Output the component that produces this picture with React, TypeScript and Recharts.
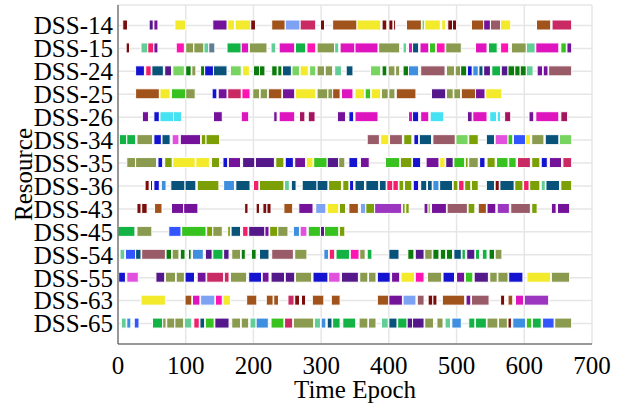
import React from 'react';
import { BarChart, Bar, Cell, XAxis, YAxis, CartesianGrid } from 'recharts';

// [start, end, task type]
type Seg = [number, number, string];

const resources = ['DSS-14', 'DSS-15', 'DSS-24', 'DSS-25', 'DSS-26', 'DSS-34', 'DSS-35', 'DSS-36', 'DSS-43', 'DSS-45', 'DSS-54', 'DSS-55', 'DSS-63', 'DSS-65'];
const epochTicks = [0, 100, 200, 300, 400, 500, 600, 700];

const dss14: Seg[] = [[7, 14, 'A'], [46, 52, 'I'], [53, 59, 'P'], [84, 100, 'Y'], [140, 161, 'P'], [162, 172, 'Y'], [173, 196, 'Y'], [196, 203, 'A'], [227, 247, 'B'], [247, 269, 'L'], [269, 292, 'C'], [299, 305, 'A'], [317, 353, 'B'], [353, 388, 'Y'], [390, 397, 'A'], [400, 406, 'A'], [407, 410, 'A'], [426, 448, 'B'], [449, 453, 'H'], [453, 476, 'Y'], [478, 484, 'Y'], [487, 494, 'A'], [494, 500, 'A'], [522, 540, 'B'], [540, 550, 'P'], [550, 565, 'W'], [565, 580, 'Y'], [618, 639, 'B'], [641, 670, 'C']];
const dss15: Seg[] = [[12, 17, 'A'], [34, 44, 'N'], [44, 53, 'R'], [53, 59, 'P'], [86, 98, 'J'], [100, 112, 'O'], [112, 127, 'O'], [127, 134, 'N'], [134, 143, 'S'], [161, 182, 'G'], [182, 193, 'M'], [194, 220, 'O'], [226, 233, 'N'], [238, 261, 'M'], [262, 277, 'G'], [279, 292, 'J'], [294, 320, 'O'], [320, 326, 'N'], [328, 350, 'M'], [350, 384, 'M'], [385, 416, 'O'], [421, 426, 'N'], [429, 435, 'M'], [435, 444, 'T'], [446, 459, 'M'], [460, 469, 'E'], [470, 483, 'J'], [484, 507, 'O'], [528, 545, 'M'], [547, 560, 'G'], [565, 577, 'J'], [581, 603, 'O'], [603, 616, 'N'], [617, 651, 'M'], [654, 662, 'E'], [663, 670, 'P']];
const dss24: Seg[] = [[26, 39, 'U'], [41, 49, 'R'], [50, 67, 'T'], [69, 79, 'I'], [81, 98, 'H'], [100, 108, 'D'], [109, 115, 'O'], [122, 128, 'D'], [128, 141, 'U'], [141, 161, 'T'], [166, 182, 'H'], [184, 194, 'Y'], [200, 209, 'D'], [209, 217, 'D'], [227, 235, 'D'], [236, 242, 'D'], [243, 256, 'T'], [257, 268, 'H'], [269, 281, 'Y'], [283, 292, 'H'], [294, 305, 'O'], [306, 317, 'O'], [320, 330, 'N'], [337, 347, 'T'], [373, 388, 'H'], [390, 397, 'D'], [399, 409, 'O'], [410, 416, 'O'], [421, 429, 'D'], [429, 444, 'Z'], [447, 483, 'W'], [485, 497, 'O'], [498, 506, 'O'], [506, 515, 'D'], [516, 523, 'U'], [524, 532, 'Z'], [533, 539, 'T'], [540, 550, 'I'], [552, 565, 'G'], [566, 576, 'I'], [576, 586, 'D'], [586, 594, 'D'], [594, 603, 'D'], [603, 613, 'N'], [619, 627, 'P'], [628, 635, 'P'], [636, 670, 'W']];
const dss25: Seg[] = [[26, 61, 'B'], [62, 77, 'Y'], [79, 100, 'E'], [100, 114, 'O'], [139, 146, 'U'], [148, 161, 'P'], [162, 182, 'C'], [183, 195, 'J'], [199, 209, 'O'], [210, 221, 'O'], [222, 242, 'B'], [243, 261, 'P'], [262, 292, 'Y'], [294, 310, 'O'], [310, 317, 'O'], [317, 328, 'B'], [330, 347, 'M'], [350, 364, 'Y'], [365, 373, 'E'], [374, 388, 'Y'], [389, 399, 'O'], [400, 409, 'O'], [411, 440, 'B'], [463, 484, 'I'], [485, 495, 'O'], [496, 506, 'O'], [507, 528, 'B'], [528, 542, 'P'], [543, 567, 'Y']];
const dss26: Seg[] = [[36, 45, 'P'], [53, 61, 'U'], [62, 82, 'Q'], [82, 94, 'Q'], [141, 154, 'P'], [182, 193, 'M'], [230, 235, 'P'], [238, 261, 'M'], [268, 276, 'c'], [281, 291, 'c'], [324, 336, 'P'], [341, 348, 'U'], [350, 384, 'M'], [429, 435, 'M'], [435, 444, 'U'], [447, 459, 'M'], [461, 481, 'Q'], [516, 523, 'P'], [524, 545, 'M'], [549, 559, 'Q'], [560, 565, 'Q'], [571, 580, 'c'], [607, 614, 'P'], [617, 651, 'M'], [654, 664, 'c']];
const dss34: Seg[] = [[2, 13, 'G'], [13, 26, 'G'], [28, 51, 'O'], [53, 64, 'U'], [65, 77, 'T'], [80, 90, 'K'], [92, 122, 'P'], [123, 130, 'V'], [130, 150, 'V'], [368, 386, 'W'], [388, 400, 'Y'], [401, 420, 'W'], [422, 434, 'V'], [437, 444, 'U'], [445, 463, 'T'], [465, 498, 'W'], [499, 517, 'H'], [518, 532, 'V'], [544, 556, 'T'], [557, 576, 'K'], [576, 583, 'E'], [584, 602, 'X'], [602, 609, 'Y'], [611, 629, 'O'], [631, 651, 'T'], [652, 670, 'H']];
const dss35: Seg[] = [[13, 26, 'O'], [26, 57, 'O'], [59, 66, 'U'], [69, 80, 'V'], [81, 114, 'Y'], [115, 135, 'Y'], [138, 150, 'V'], [155, 162, 'U'], [163, 181, 'P'], [184, 202, 'I'], [203, 231, 'I'], [233, 245, 'V'], [247, 259, 'U'], [261, 277, 'P'], [278, 288, 'Y'], [289, 309, 'E'], [309, 326, 'I'], [326, 335, 'O'], [341, 354, 'U'], [358, 371, 'P'], [395, 416, 'E'], [417, 434, 'V'], [435, 447, 'U'], [455, 474, 'P'], [475, 483, 'Y'], [484, 495, 'I'], [496, 512, 'E'], [513, 517, 'V'], [518, 532, 'O'], [534, 542, 'U'], [545, 557, 'V'], [559, 576, 'E'], [577, 588, 'E'], [590, 609, 'C'], [611, 623, 'V'], [625, 634, 'U'], [637, 655, 'P'], [657, 670, 'C']];
const dss36: Seg[] = [[40, 46, 'A'], [48, 51, 'A'], [53, 61, 'U'], [64, 71, 'Z'], [78, 99, 'T'], [99, 115, 'T'], [117, 149, 'V'], [156, 172, 'Z'], [174, 195, 'T'], [200, 208, 'R'], [209, 245, 'V'], [246, 253, 'N'], [256, 263, 'T'], [272, 294, 'T'], [294, 310, 'T'], [311, 330, 'V'], [332, 341, 'V'], [342, 348, 'U'], [350, 364, 'T'], [366, 385, 'T'], [386, 396, 'T'], [397, 406, 'R'], [406, 414, 'R'], [415, 422, 'V'], [423, 434, 'V'], [436, 444, 'U'], [447, 456, 'T'], [457, 464, 'T'], [465, 474, 'Z'], [475, 494, 'T'], [495, 502, 'V'], [503, 511, 'R'], [512, 521, 'V'], [522, 532, 'V'], [544, 556, 'T'], [557, 563, 'A'], [564, 585, 'T'], [586, 598, 'V'], [599, 607, 'R'], [608, 623, 'V'], [625, 631, 'N'], [632, 652, 'T'], [654, 670, 'V']];
const dss43: Seg[] = [[28, 34, 'A'], [35, 43, 'A'], [54, 65, 'B'], [79, 97, 'P'], [97, 118, 'P'], [187, 192, 'A'], [204, 209, 'A'], [214, 220, 'A'], [220, 226, 'A'], [245, 258, 'B'], [267, 288, 'P'], [292, 307, 'L'], [309, 326, 'Y'], [327, 336, 'V'], [341, 355, 'B'], [358, 366, 'L'], [366, 379, 'V'], [379, 419, 'F'], [420, 424, 'V'], [425, 430, 'V'], [452, 458, 'P'], [458, 461, 'V'], [463, 485, 'P'], [486, 516, 'W'], [517, 527, 'V'], [532, 544, 'B'], [545, 558, 'P'], [560, 578, 'F'], [580, 609, 'W'], [611, 619, 'V'], [640, 647, 'P'], [649, 667, 'P']];
const dss45: Seg[] = [[0, 25, 'G'], [28, 50, 'O'], [75, 93, 'X'], [94, 130, 'E'], [131, 140, 'V'], [140, 154, 'O'], [162, 166, 'V'], [167, 181, 'T'], [184, 192, 'R'], [193, 217, 'I'], [217, 223, 'P'], [224, 236, 'V'], [236, 251, 'O'], [259, 268, 'Z'], [269, 279, 'K'], [281, 299, 'E'], [299, 305, 'I'], [305, 326, 'E'], [327, 335, 'V']];
const dss54: Seg[] = [[3, 10, 'N'], [11, 26, 'X'], [26, 34, 'T'], [35, 70, 'W'], [71, 79, 'D'], [80, 90, 'O'], [92, 99, 'D'], [104, 108, 'D'], [110, 126, 'Z'], [129, 139, 'I'], [140, 155, 'G'], [156, 164, 'I'], [168, 181, 'O'], [182, 188, 'D'], [197, 204, 'D'], [209, 223, 'T'], [227, 259, 'W'], [261, 279, 'O'], [304, 311, 'Z'], [312, 320, 'R'], [322, 342, 'G'], [343, 356, 'J'], [357, 365, 'O'], [368, 375, 'G'], [400, 415, 'T'], [428, 437, 'D'], [439, 452, 'I'], [453, 464, 'O'], [465, 474, 'D'], [476, 484, 'D'], [485, 494, 'D'], [496, 507, 'T'], [508, 513, 'G'], [515, 527, 'I'], [528, 534, 'G'], [538, 545, 'G'], [548, 556, 'D'], [557, 567, 'O']];
const dss55: Seg[] = [[1, 11, 'U'], [13, 30, 'K'], [56, 69, 'I'], [70, 85, 'O'], [86, 98, 'O'], [99, 113, 'U'], [117, 130, 'P'], [131, 156, 'C'], [157, 164, 'C'], [166, 190, 'O'], [193, 212, 'U'], [213, 223, 'P'], [226, 246, 'I'], [247, 261, 'I'], [262, 286, 'O'], [288, 310, 'U'], [311, 328, 'K'], [330, 355, 'I'], [357, 369, 'O'], [370, 381, 'O'], [383, 402, 'U'], [404, 416, 'P'], [418, 438, 'Y'], [439, 452, 'J'], [457, 478, 'O'], [480, 497, 'U'], [500, 512, 'P'], [513, 524, 'E'], [526, 547, 'I'], [549, 560, 'O'], [561, 576, 'O'], [577, 598, 'U'], [604, 639, 'Y'], [640, 667, 'O']];
const dss63: Seg[] = [[34, 70, 'Y'], [99, 109, 'B'], [110, 121, 'M'], [122, 143, 'L'], [144, 154, 'J'], [155, 166, 'Y'], [190, 205, 'B'], [219, 229, 'B'], [230, 237, 'B'], [251, 260, 'C'], [261, 268, 'A'], [271, 277, 'A'], [287, 304, 'B'], [315, 328, 'B'], [383, 400, 'B'], [400, 420, 'P'], [421, 440, 'L'], [442, 452, 'W'], [458, 465, 'A'], [465, 471, 'A'], [479, 512, 'B'], [514, 521, 'P'], [522, 548, 'W'], [565, 571, 'A'], [576, 583, 'B'], [587, 599, 'M'], [600, 636, 'F']];
const dss65: Seg[] = [[5, 12, 'N'], [13, 19, 'Z'], [24, 31, 'X'], [51, 66, 'G'], [66, 71, 'O'], [72, 84, 'O'], [84, 97, 'O'], [98, 109, 'N'], [112, 120, 'R'], [121, 128, 'T'], [129, 142, 'E'], [143, 164, 'I'], [168, 181, 'O'], [182, 193, 'O'], [195, 204, 'N'], [204, 222, 'Z'], [226, 245, 'E'], [246, 258, 'C'], [259, 289, 'O'], [290, 299, 'N'], [300, 307, 'Z'], [309, 316, 'T'], [317, 328, 'G'], [332, 351, 'G'], [356, 369, 'O'], [370, 381, 'O'], [389, 399, 'N'], [400, 412, 'T'], [413, 427, 'G'], [427, 435, 'I'], [435, 452, 'I'], [453, 466, 'O'], [471, 480, 'O'], [483, 491, 'N'], [493, 507, 'Z'], [518, 527, 'G'], [528, 544, 'G'], [545, 561, 'O'], [562, 575, 'O'], [576, 581, 'A'], [583, 602, 'Z'], [603, 611, 'E'], [612, 625, 'G'], [627, 644, 'X'], [645, 670, 'O']];

const taskColors: Record<string, string> = {
  A: '#7a0c0c', P: '#74129a', I: '#55188a', Y: '#f2ea2a', B: '#a0531b',
  L: '#7ea2f3', C: '#c92a63', c: '#a3155e', M: '#de14bf', J: '#fd14b2',
  G: '#12b244', O: '#8a9a4e', N: '#63cd98', S: '#5e7f93', U: '#1414d0',
  R: '#f21f6b', T: '#09537a', H: '#77d461', D: '#0b7b0b', V: '#7b9f05',
  Q: '#44e2f2', E: '#38c21f', K: '#e251de', W: '#9a5b69', X: '#3355ff',
  Z: '#3f8fe0', F: '#9c36c0',
};

const rows = [dss14, dss15, dss24, dss25, dss26, dss34, dss35, dss36, dss43, dss45, dss54, dss55, dss63, dss65];

// every row becomes gap, busy, gap, busy ... stacked along the time axis
const maxSegs = Math.max(...rows.map((r) => r.length));

const data = resources.map((name, i) => {
  const entry: Record<string, string | number> = { name };
  let cursor = 0;
  for (let k = 0; k < maxSegs; k++) {
    const seg = rows[i][k];
    if (!seg) {
      entry[`p${2 * k}`] = 0;
      entry[`p${2 * k + 1}`] = 0;
      continue;
    }
    const start = Math.max(seg[0], cursor);
    entry[`p${2 * k}`] = start - cursor;
    entry[`p${2 * k + 1}`] = seg[1] - start;
    cursor = seg[1];
  }
  return entry;
});

const font = { fill: '#000', fontSize: 25, fontFamily: 'Liberation Serif, Times New Roman, serif' };

export default function App() {
  return (
    <div style={{ position: 'absolute', left: 0, top: 0 }}>
      <BarChart width={624} height={408} data={data} layout="vertical" margin={{ top: 5, right: 32, left: 0, bottom: 0 }}>
        <CartesianGrid stroke="#e6e6e6" strokeWidth={1.5} />
        <XAxis
          type="number"
          domain={[0, 700]}
          ticks={epochTicks}
          allowDataOverflow
          tickLine={false}
          tickSize={0}
          tickMargin={12}
          height={64}
          axisLine={{ stroke: '#444' }}
          tick={font}
          label={{ value: 'Time Epoch', position: 'insideBottom', offset: 10, ...font }}
        />
        <YAxis
          type="category"
          dataKey="name"
          width={118}
          interval={0}
          padding={{ top: 9, bottom: 9 }}
          tickLine={false}
          tickSize={0}
          tickMargin={5}
          axisLine={{ stroke: '#444' }}
          tick={font}
          label={{ value: 'Resource', angle: -90, position: 'center', dx: -36, ...font }}
        />
        <XAxis xAxisId="top" orientation="top" type="number" domain={[0, 700]} height={0} tick={false} tickLine={false} axisLine={{ stroke: '#888' }} />
        <YAxis yAxisId="right" orientation="right" type="category" dataKey="name" width={0} tick={false} tickLine={false} axisLine={{ stroke: '#444' }} />
        {Array.from({ length: maxSegs * 2 }, (_, k) => (
          <Bar key={k} dataKey={`p${k}`} stackId="t" barSize={10} isAnimationActive={false}>
            {rows.map((segs, i) => {
              const seg = k % 2 === 1 ? segs[(k - 1) / 2] : undefined;
              return seg ? (
                <Cell key={i} fill={taskColors[seg[2]]} stroke="#fff" strokeWidth={1} />
              ) : (
                <Cell key={i} fill="none" stroke="none" />
              );
            })}
          </Bar>
        ))}
      </BarChart>
    </div>
  );
}
